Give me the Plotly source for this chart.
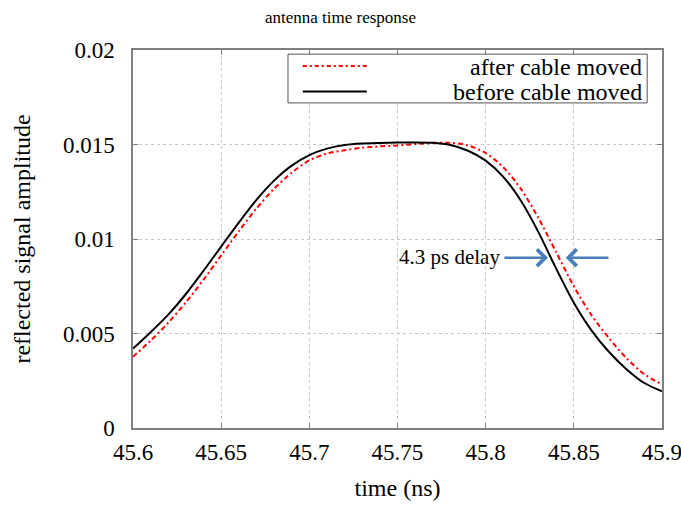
import plotly.graph_objects as go

# ---- data ----
time_ns = [45.60, 45.61, 45.62, 45.63, 45.64, 45.65, 45.66, 45.67, 45.68, 45.69,
           45.70, 45.71, 45.72, 45.73, 45.74, 45.75, 45.76, 45.77, 45.78, 45.79,
           45.80, 45.81, 45.82, 45.83, 45.84, 45.85, 45.86, 45.87, 45.88, 45.89, 45.90]

before_moved = [0.00420, 0.00507, 0.00600, 0.00709, 0.00832, 0.00960, 0.01087, 0.01207,
                0.01309, 0.01388, 0.01444, 0.01478, 0.01497, 0.01505, 0.01508, 0.01510,
                0.01511, 0.01509, 0.01497, 0.01467, 0.01415, 0.01329, 0.01202, 0.01035,
                0.00843, 0.00663, 0.00517, 0.00402, 0.00310, 0.00238, 0.00194]

after_moved = [0.00377, 0.00462, 0.00557, 0.00665, 0.00785, 0.00913, 0.01041, 0.01161,
               0.01266, 0.01351, 0.01416, 0.01452, 0.01470, 0.01483, 0.01490, 0.01495,
               0.01502, 0.01508, 0.01509, 0.01495, 0.01455, 0.01380, 0.01265, 0.01110,
               0.00930, 0.00750, 0.00597, 0.00475, 0.00368, 0.00285, 0.00230]

x_ticks = [45.6, 45.65, 45.7, 45.75, 45.8, 45.85, 45.9]
x_tick_labels = ["45.6", "45.65", "45.7", "45.75", "45.8", "45.85", "45.9"]
y_ticks = [0, 0.005, 0.01, 0.015, 0.02]
y_tick_labels = ["0", "0.005", "0.01", "0.015", "0.02"]

series_names = ["after cable moved", "before cable moved"]
delay_label = "4.3 ps delay"
arrow_y = 0.00901
left_arrow = (45.8098, 45.8353)    # tail x, head x
right_arrow = (45.8705, 45.8454)   # tail x, head x

FONT = "Liberation Serif"
FRAME = "#7f7f7f"

fig = go.Figure()
fig.add_trace(go.Scatter(x=time_ns, y=after_moved, mode="lines", name=series_names[0],
                         line=dict(color="#ff0000", width=2, dash="5px,3px,2px,3px",
                                   shape="spline", smoothing=0.8),
                         showlegend=False))
fig.add_trace(go.Scatter(x=time_ns, y=before_moved, mode="lines", name=series_names[1],
                         line=dict(color="#000000", width=2, shape="spline", smoothing=0.8),
                         showlegend=False))

# manual legend (right-aligned text like the reference)
lx0, lx1, ly0, ly1 = 0.293, 0.972, 0.860, 0.989
fig.add_shape(type="rect", xref="paper", yref="paper", x0=lx0, x1=lx1, y0=ly0, y1=ly1,
              line=dict(color="#555555", width=1), fillcolor="white", layer="above")
fig.add_shape(type="line", xref="paper", yref="paper", x0=0.321, x1=0.442, y0=0.958, y1=0.958,
              line=dict(color="#ff0000", width=2, dash="4px,3px,2px,3px"), layer="above")
fig.add_shape(type="line", xref="paper", yref="paper", x0=0.321, x1=0.442, y0=0.890, y1=0.890,
              line=dict(color="#000000", width=2), layer="above")
for name, yy in zip(series_names, [0.956, 0.888]):
    fig.add_annotation(text=name, xref="paper", yref="paper", x=0.966, y=yy,
                       xanchor="right", yanchor="middle", showarrow=False,
                       font=dict(family=FONT, size=24, color="black"))

# delay annotation and arrows
fig.add_annotation(text=delay_label, x=left_arrow[0], y=arrow_y, xref="x", yref="y",
                   xanchor="right", yanchor="middle", showarrow=False, xshift=-1, yshift=1,
                   font=dict(family=FONT, size=21, color="black"))
for tail, head in [left_arrow, right_arrow]:
    fig.add_annotation(x=head, y=arrow_y, ax=tail, ay=arrow_y, xref="x", yref="y",
                       axref="x", ayref="y", text="", showarrow=True,
                       arrowhead=4, arrowsize=1.3, arrowwidth=2.5, arrowcolor="#4a7ebb")

axis_common = dict(showline=True, linecolor=FRAME, linewidth=1.5, mirror="ticks",
                   ticks="inside", ticklen=5, tickcolor=FRAME, tickwidth=1,
                   showgrid=True, gridcolor="#c8c8c8", griddash="dot", gridwidth=1,
                   zeroline=False, ticklabeloverflow="allow", automargin=False,
                   tickfont=dict(family=FONT, size=23, color="black"))

fig.update_layout(
    width=681, height=507,
    margin=dict(l=133, r=19, t=50, b=79, autoexpand=False),
    paper_bgcolor="white", plot_bgcolor="white",
    font=dict(family=FONT, color="black"),
    title=dict(text="antenna time response", x=0.5, xref="container", xanchor="center",
               y=1 - 17 / 507, yref="container", yanchor="middle",
               font=dict(family=FONT, size=17, color="black")),
    xaxis=dict(range=[45.6, 45.90001], tickvals=x_ticks, ticktext=x_tick_labels,
               ticklabelstandoff=3,
               title=dict(text="time (ns)", font=dict(family=FONT, size=24, color="black"), standoff=15),
               **axis_common),
    yaxis=dict(range=[0, 0.02], tickvals=y_ticks, ticktext=y_tick_labels,
               ticklabelstandoff=12,
               title=dict(text="reflected signal amplitude", font=dict(family=FONT, size=24, color="black"),
                          standoff=26),
               **axis_common),
)

fig.write_html("out.html")
